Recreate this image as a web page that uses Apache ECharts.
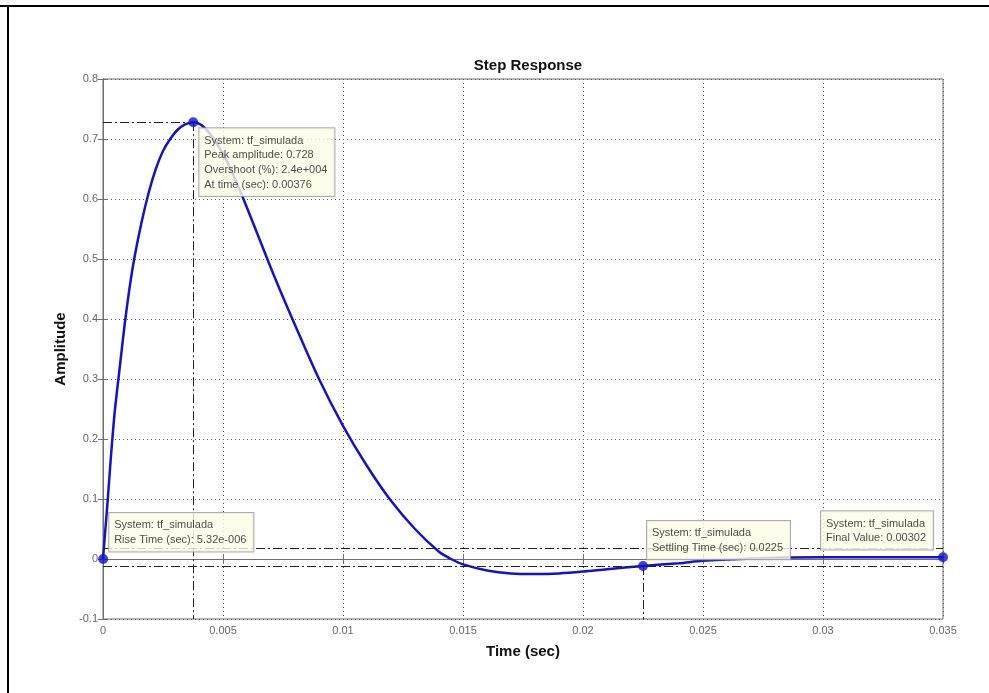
<!DOCTYPE html>
<html>
<head>
<meta charset="utf-8">
<script src="https://cdn.jsdelivr.net/npm/echarts@6/dist/echarts.min.js"></script>
<style>html,body{margin:0;padding:0;background:#fff;}#c{width:989px;height:693px;}</style>
</head>
<body>
<div id="c"></div>
<script>
// step response samples (time in sec, amplitude)
const timeValues = [0, 0.0001, 0.0002, 0.0003, 0.0004, 0.0005, 0.0007, 0.0009, 0.0011, 0.0013, 0.0016, 0.0019, 0.0022, 0.0025, 0.0028, 0.0031, 0.0034, 0.00376,
  0.0042, 0.0047, 0.0052, 0.0058, 0.0065, 0.0072, 0.0080, 0.0090, 0.0100, 0.0110, 0.0120, 0.0130, 0.0140, 0.0145,
  0.0150, 0.0160, 0.0170, 0.0180, 0.0190, 0.0200, 0.0210, 0.0225, 0.0240, 0.0250, 0.0270, 0.0300, 0.0350];
const amplitudeValues = [0, 0.05, 0.10, 0.155, 0.205, 0.25, 0.32, 0.39, 0.45, 0.50, 0.56, 0.61, 0.65, 0.68, 0.70, 0.715, 0.724, 0.728,
  0.720, 0.695, 0.660, 0.605, 0.535, 0.465, 0.390, 0.300, 0.222, 0.155, 0.097, 0.050, 0.012, 0.0,
  -0.009, -0.019, -0.024, -0.025, -0.024, -0.021, -0.017, -0.0116, -0.007, -0.003, 0.001, 0.003, 0.00302];

// characteristic points (data tips)
const tipNames = ['peak', 'rise', 'settling', 'final'];
const tipT = [0.00376, 0.00000532, 0.0225, 0.035];
const tipY = [0.728, 0.0, -0.0116, 0.00302];
const tipTexts = [
  ['System: tf_simulada', 'Peak amplitude: 0.728', 'Overshoot (%): 2.4e+004', 'At time (sec): 0.00376'],
  ['System: tf_simulada', 'Rise Time (sec): 5.32e-006'],
  ['System: tf_simulada', 'Settling Time (sec): 0.0225'],
  ['System: tf_simulada', 'Final Value: 0.00302']
];
// settling band
const bandUpper = 0.0176;
const bandLower = -0.0116;

const xMin = 0, xMax = 0.035, xStep = 0.005;
const yMin = -0.1, yMax = 0.8, yStep = 0.1;

const tipOffsets = [[11, 11], [11, -41], [9, -40], [-117, -41]];

const FONT = 'Liberation Sans, Arial, sans-serif';
const blue = '#1212cf';
const dashDot = [9, 3, 2, 3];

const chart = echarts.init(document.getElementById('c'), null, {renderer: 'canvas'});

const lineData = timeValues.map((t, i) => [t, amplitudeValues[i]]);
const tipData = tipT.map((t, i) => ({
  value: [t, tipY[i]],
  label: {
    show: true,
    position: tipOffsets[i],
    formatter: tipTexts[i].join('\n')
  }
}));

const markLines = [
  [{coord: [xMin, tipY[0]]}, {coord: [tipT[0], tipY[0]]}],
  [{coord: [tipT[0], tipY[0]]}, {coord: [tipT[0], yMin]}],
  [{coord: [xMin, bandUpper]}, {coord: [xMax, bandUpper]}],
  [{coord: [xMin, bandLower]}, {coord: [xMax, bandLower]}],
  [{coord: [tipT[2], tipY[2]]}, {coord: [tipT[2], yMin]}]
];

const fmtX = v => { const r = Math.round(v * 10000) / 10000; return r === 0 ? '0' : String(r); };
const fmtY = v => { const r = Math.round(v * 10) / 10; return r === 0 ? '0' : String(r); };

const axisCommon = {
  axisLine: {show: true, lineStyle: {color: '#6f6f6f', width: 1}},
  axisTick: {show: true, inside: true, length: 5, lineStyle: {color: '#6f6f6f'}},
};

chart.setOption({
  animation: false,
  backgroundColor: '#fff',
  title: {
    text: 'Step Response',
    left: 523, top: 53, textAlign: 'center',
    textStyle: {fontFamily: FONT, fontSize: 15, fontWeight: 'bold', color: '#111'}
  },
  grid: {left: 103, right: 46, top: 79, bottom: 74, show: true, borderColor: '#6f6f6f', borderWidth: 1, backgroundColor: '#fff'},
  xAxis: [{
    type: 'value', min: xMin, max: xMax, interval: xStep,
    name: 'Time (sec)', nameLocation: 'middle', nameGap: 25,
    nameTextStyle: {fontFamily: FONT, fontSize: 15, fontWeight: 'bold', color: '#111'},
    ...axisCommon,
    axisLabel: {formatter: fmtX, fontFamily: FONT, fontSize: 11, color: '#666', margin: 6},
    splitLine: {show: true, lineStyle: {type: [1, 3], color: '#555', width: 1}}
  }, {
    type: 'value', position: 'top', min: xMin, max: xMax, interval: xStep,
    ...axisCommon, axisLabel: {show: false}, splitLine: {show: false}
  }],
  yAxis: [{
    type: 'value', min: yMin, max: yMax, interval: yStep,
    name: 'Amplitude', nameLocation: 'middle', nameGap: 32, nameRotate: 90,
    nameTextStyle: {fontFamily: FONT, fontSize: 15, fontWeight: 'bold', color: '#111'},
    ...axisCommon,
    axisLabel: {formatter: fmtY, fontFamily: FONT, fontSize: 11, color: '#666', margin: 5},
    splitLine: {show: true, lineStyle: {type: [1, 3], color: '#555', width: 1}}
  }, {
    type: 'value', position: 'right', min: yMin, max: yMax, interval: yStep,
    ...axisCommon, axisLabel: {show: false}, splitLine: {show: false}
  }],
  series: [{
    type: 'line',
    data: lineData,
    smooth: 0.3,
    showSymbol: false,
    lineStyle: {color: blue, width: 2.5},
    z: 3,
    markLine: {
      silent: true, symbol: 'none', label: {show: false},
      lineStyle: {type: dashDot, color: '#222', width: 1},
      data: markLines
    }
  }, {
    type: 'scatter',
    data: tipData,
    symbol: 'circle',
    symbolSize: 10,
    itemStyle: {color: blue},
    z: 10,
    label: {
      fontFamily: FONT, fontSize: 11, color: '#1a1a1a', lineHeight: 14.7,
      backgroundColor: '#fcfce6', borderColor: '#9a9a9a', borderWidth: 1,
      padding: [5, 7, 4, 5], align: 'left', verticalAlign: 'top'
    }
  }],
  graphic: [
    {type: 'rect', shape: {x: 0, y: 5, width: 989, height: 2}, style: {fill: '#000'}, z: 100},
    {type: 'rect', shape: {x: 7, y: 5, width: 2, height: 688}, style: {fill: '#000'}, z: 100}
  ]
});
</script>
</body>
</html>
